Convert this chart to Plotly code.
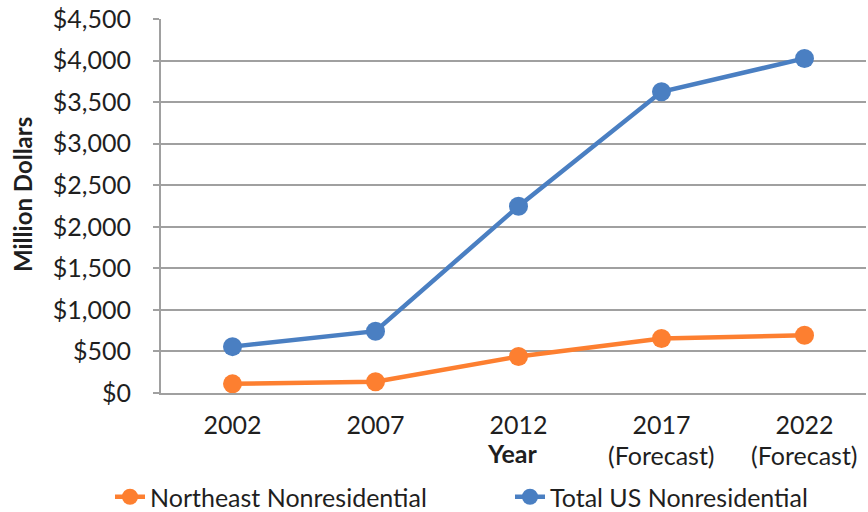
import plotly.graph_objects as go

years = ["2002", "2007", "2012", "2017", "2022"]
year_sub = ["", "", "", "(Forecast)", "(Forecast)"]
northeast = [110, 135, 440, 656, 694]
total_us = [558, 744, 2248, 3624, 4026]
y_ticks = [0, 500, 1000, 1500, 2000, 2500, 3000, 3500, 4000, 4500]
y_tick_labels = ["$0", "$500", "$1,000", "$1,500", "$2,000", "$2,500",
                 "$3,000", "$3,500", "$4,000", "$4,500"]

FONT = "Lato"
FS = 25
TXT = "#1f1f1f"
GRID = "#a0a0a0"
BLUE = "#4a7fc2"
ORANGE = "#fd7f30"

# body margin is removed by the post_script, so the figure sits at (0, 0)
OFF = 0
W, H = 868 - OFF, 512 - OFF
PL, PR, PT, PB = 161, 866, 19, 393          # plot area in screen pixels
L, R, T, B = PL - OFF, W - (PR - OFF), PT - OFF, H - (PB - OFF)
pw, ph = W - L - R, H - T - B

def py(spx):  # screen pixel y -> paper y
    return (PB - spx) / ph

def pxx(spx):  # screen pixel x -> paper x
    return (spx - PL) / pw

xs = list(range(len(years)))

fig = go.Figure()
fig.add_trace(go.Scatter(
    x=xs, y=northeast, name="Northeast Nonresidential", mode="lines+markers",
    line=dict(color=ORANGE, width=4.5), marker=dict(size=19, color=ORANGE),
    legend="legend",
))
fig.add_trace(go.Scatter(
    x=xs, y=total_us, name="Total US Nonresidential", mode="lines+markers",
    line=dict(color=BLUE, width=4.5), marker=dict(size=19, color=BLUE),
    legend="legend2",
))

leg_common = dict(orientation="h", xanchor="left", yanchor="middle",
                  font=dict(size=FS, color=TXT), bgcolor="rgba(0,0,0,0)",
                  borderwidth=0)
fig.update_layout(
    width=W, height=H,
    margin=dict(l=L, r=R, t=T, b=B, autoexpand=False),
    paper_bgcolor="white", plot_bgcolor="white",
    font=dict(family=FONT, size=FS, color=TXT),
    showlegend=True,
    legend=dict(x=pxx(110), y=py(497), **leg_common),
    legend2=dict(x=pxx(510), y=py(497), **leg_common),
)
fig.update_xaxes(
    range=[-0.5, -0.5 + pw / 143.0], tickvals=xs, ticktext=years,
    showgrid=False, showline=True, linecolor=GRID, linewidth=2,
    ticks="", zeroline=False, ticklabelstandoff=9, automargin=False,
    tickfont=dict(size=FS, color=TXT), fixedrange=True,
)
fig.update_yaxes(
    range=[0, 4500.5], tickvals=y_ticks, ticktext=y_tick_labels,
    showgrid=True, gridcolor=GRID, gridwidth=2,
    showline=True, linecolor=GRID, linewidth=2,
    ticks="outside", ticklen=6, tickcolor=GRID, tickwidth=2,
    zeroline=False, ticklabelstandoff=17, automargin=False,
    ticklabeloverflow="allow",
    tickfont=dict(size=FS, color=TXT),
)

for i, s in enumerate(year_sub):
    if s:
        fig.add_annotation(x=xs[i], xref="x", y=py(455), yref="paper", text=s,
                           showarrow=False, yanchor="middle", font=dict(size=FS, color=TXT))

fig.add_annotation(x=pxx(512), xref="paper", y=py(453), yref="paper", text="<b>Year</b>",
                   showarrow=False, yanchor="middle", xanchor="center",
                   font=dict(size=FS, color=TXT))
fig.add_annotation(x=pxx(22), xref="paper", y=py(195), yref="paper", text="<b>Million Dollars</b>",
                   showarrow=False, textangle=-90, yanchor="middle", xanchor="center",
                   font=dict(size=24, color=TXT))

fig.write_html("out.html",
               config={"displayModeBar": False},
               post_script="document.body.style.margin='0';document.body.style.overflow='hidden';")
